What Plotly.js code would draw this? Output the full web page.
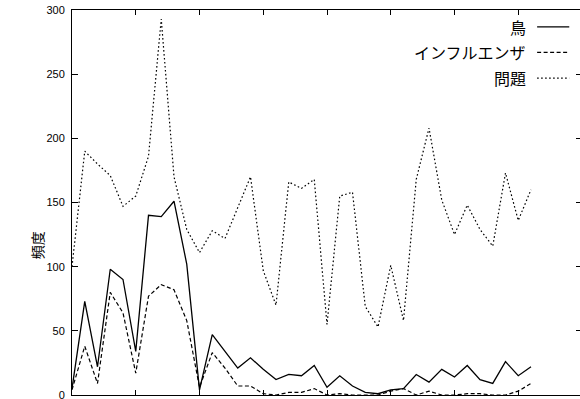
<!DOCTYPE html>
<html>
<head>
<meta charset="utf-8">
<script src="https://cdn.plot.ly/plotly-3.0.1.min.js"></script>
<style>
  html, body { margin: 0; padding: 0; overflow: hidden; background: #fff; }
  #chart { width: 600px; height: 430px; }
</style>
</head>
<body>
<div id="chart"></div>
<script>
// Time index of each observation
const periods = [0, 1, 2, 3, 4, 5, 6, 7, 8, 9, 10, 11, 12, 13, 14, 15, 16, 17, 18,
                 19, 20, 21, 22, 23, 24, 25, 26, 27, 28, 29, 30, 31, 32, 33, 34, 35, 36];

// Word frequencies per period
const bird = [5, 73, 22, 98, 90, 34, 140, 139, 151, 102, 4, 47, 34, 21, 29, 20, 12, 16, 15,
              23, 6, 15, 7, 2, 1, 4, 5, 16, 10, 20, 14, 23, 12, 9, 26, 15, 22];
const influenza = [4, 38, 9, 80, 64, 17, 77, 86, 82, 58, 6, 33, 21, 7, 7, 1, 0, 2, 2,
                   5, 0, 1, 0, 0, 0, 3, 5, 0, 3, 0, 0, 1, 1, 0, 0, 3, 9];
const problem = [100, 190, 180, 171, 147, 155, 186, 293, 170, 129, 111, 128, 122, 146, 170, 97, 70, 166, 161,
                 168, 55, 155, 158, 69, 53, 101, 58, 168, 208, 152, 125, 148, 129, 116, 173, 136, 160];

const seriesNames = ['鳥', 'インフルエンザ', '問題'];
const yTicks = [0, 50, 100, 150, 200, 250, 300];
const xTicks = [0, 5, 10, 15, 20, 25, 30, 35, 40];

const styles = [
  { width: 1.3, dash: 'solid' },
  { width: 1.2, dash: '4px,2.5px' },
  { width: 1.2, dash: '1.6px,2.4px' }
];
const values = [bird, influenza, problem];

const traces = values.map((v, k) => ({
  x: periods,
  y: v,
  type: 'scatter',
  mode: 'lines',
  name: seriesNames[k],
  showlegend: false,
  line: { color: '#000', width: styles[k].width, dash: styles[k].dash },
  hoverinfo: 'skip'
}));

// Key in the upper-right corner: label first, line sample to its right
const keyRows = [0.956, 0.890, 0.823];
const annotations = seriesNames.map((name, k) => ({
  xref: 'paper', yref: 'paper',
  x: 0.894, y: keyRows[k],
  xanchor: 'right', yanchor: 'middle',
  text: name, showarrow: false,
  font: { family: 'Noto Sans CJK JP', size: 16, color: '#000' }
}));
annotations.push({
  xref: 'paper', yref: 'paper',
  x: -0.068, y: 0.39,
  xanchor: 'center', yanchor: 'middle',
  text: '頻度', textangle: -90, showarrow: false,
  font: { family: 'Noto Sans CJK JP', size: 14, color: '#000' }
});
const shapes = seriesNames.map((name, k) => ({
  type: 'line', xref: 'paper', yref: 'paper',
  x0: 0.912, x1: 0.975, y0: keyRows[k], y1: keyRows[k],
  line: { color: '#000', width: styles[k].width, dash: styles[k].dash }
}));

const axisCommon = {
  showline: true, linecolor: '#000', linewidth: 1,
  mirror: 'allticks', ticks: 'inside', tickcolor: '#000', tickwidth: 1,
  showgrid: false, zeroline: false
};

const layout = {
  width: 600, height: 430,
  margin: { l: 72, r: 18, t: 10, b: 35 },
  paper_bgcolor: '#fff', plot_bgcolor: '#fff',
  showlegend: false,
  xaxis: Object.assign({}, axisCommon, {
    range: [0, 40], tickvals: xTicks, ticklen: 5, showticklabels: false
  }),
  yaxis: Object.assign({}, axisCommon, {
    range: [0, 300], tickvals: yTicks, ticktext: yTicks.map(String), ticklen: 6,
    ticklabelstandoff: 4,
    tickfont: { family: 'Liberation Sans', size: 11, color: '#000' }
  }),
  annotations: annotations,
  shapes: shapes
};

Plotly.newPlot('chart', traces, layout, { staticPlot: true, displayModeBar: false });
</script>
</body>
</html>
